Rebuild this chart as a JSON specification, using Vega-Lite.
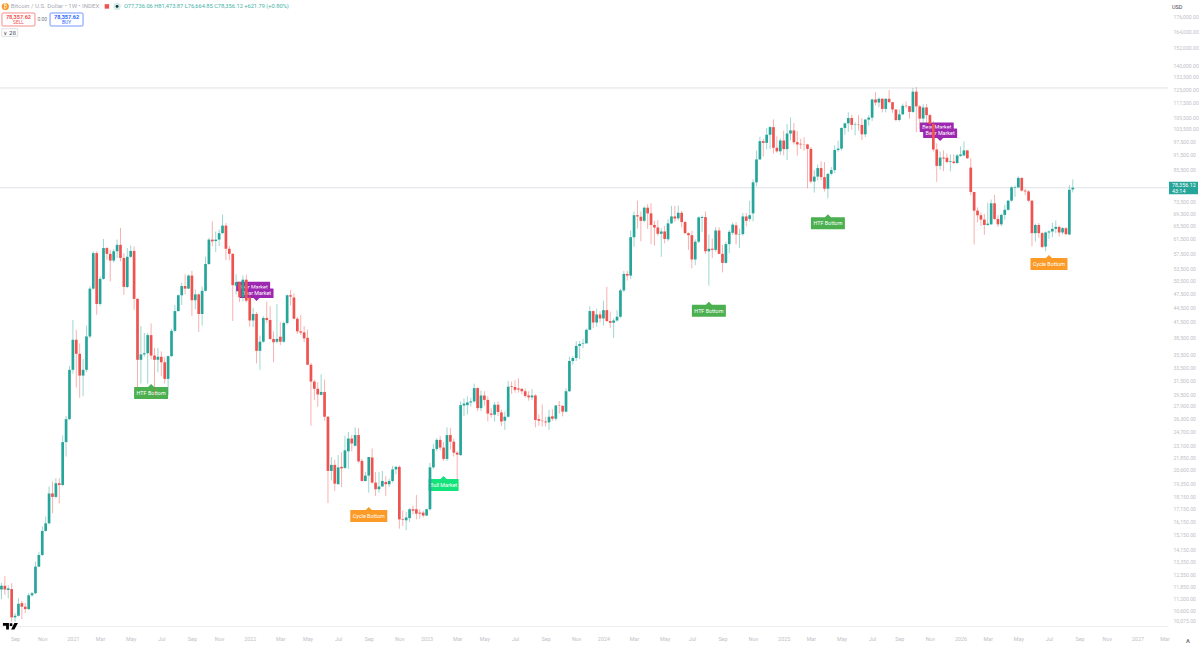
{
  "$schema": "https://vega.github.io/schema/vega-lite/v6.json",
  "width": 1168,
  "height": 626,
  "autosize": {"type": "none"},
  "padding": {"left": 0, "top": 0, "right": 32, "bottom": 20},
  "background": "#ffffff",
  "config": {
    "view": {"stroke": null},
    "font": "Roboto",
    "axis": {"grid": false, "ticks": false, "title": null}
  },
  "resolve": {"axis": {"x": "independent"}},
  "data": {"values": [{}]},
  "datasets": {
    "candles": [
      {"d":"2020-08-10","o":11700,"h":12060,"l":11170,"c":11900},
      {"d":"2020-08-17","o":11900,"h":12470,"l":11400,"c":11700},
      {"d":"2020-08-24","o":11670,"h":11920,"l":11220,"c":11750},
      {"d":"2020-08-31","o":11720,"h":12050,"l":10040,"c":10250},
      {"d":"2020-09-07","o":10250,"h":10460,"l":10040,"c":10330},
      {"d":"2020-09-14","o":10330,"h":11220,"l":10290,"c":10930},
      {"d":"2020-09-21","o":10965,"h":11080,"l":10165,"c":10780},
      {"d":"2020-09-28","o":10780,"h":10970,"l":10460,"c":10660},
      {"d":"2020-10-05","o":10660,"h":11490,"l":10610,"c":11380},
      {"d":"2020-10-12","o":11380,"h":11570,"l":11300,"c":11490},
      {"d":"2020-10-19","o":11490,"h":13340,"l":11450,"c":13030},
      {"d":"2020-10-26","o":13030,"h":13980,"l":13000,"c":13770},
      {"d":"2020-11-02","o":13770,"h":15760,"l":13700,"c":15430},
      {"d":"2020-11-09","o":15430,"h":16520,"l":15380,"c":16000},
      {"d":"2020-11-16","o":16000,"h":19050,"l":15920,"c":18430},
      {"d":"2020-11-23","o":18430,"h":19490,"l":16780,"c":18130},
      {"d":"2020-11-30","o":18130,"h":19800,"l":18000,"c":19340},
      {"d":"2020-12-07","o":19340,"h":19810,"l":17580,"c":19180},
      {"d":"2020-12-14","o":19180,"h":24250,"l":19050,"c":23500},
      {"d":"2020-12-21","o":23500,"h":26600,"l":21950,"c":26200},
      {"d":"2020-12-28","o":26200,"h":33700,"l":26100,"c":33090},
      {"d":"2021-01-04","o":33090,"h":41900,"l":32500,"c":38150},
      {"d":"2021-01-11","o":38150,"h":40000,"l":30400,"c":35700},
      {"d":"2021-01-18","o":35700,"h":37500,"l":29000,"c":32200},
      {"d":"2021-01-25","o":32200,"h":34800,"l":29200,"c":33100},
      {"d":"2021-02-01","o":33100,"h":40800,"l":32800,"c":38750},
      {"d":"2021-02-08","o":38750,"h":49100,"l":38450,"c":48600},
      {"d":"2021-02-15","o":48600,"h":58000,"l":48350,"c":57500},
      {"d":"2021-02-22","o":57500,"h":58000,"l":42950,"c":45200},
      {"d":"2021-03-01","o":45200,"h":51500,"l":44800,"c":50900},
      {"d":"2021-03-08","o":50900,"h":61500,"l":50700,"c":58900},
      {"d":"2021-03-15","o":58900,"h":59200,"l":55700,"c":57300},
      {"d":"2021-03-22","o":57300,"h":58400,"l":50300,"c":55500},
      {"d":"2021-03-29","o":55500,"h":58600,"l":55000,"c":58000},
      {"d":"2021-04-05","o":58000,"h":61300,"l":56200,"c":59800},
      {"d":"2021-04-12","o":59800,"h":64800,"l":55300,"c":56200},
      {"d":"2021-04-19","o":56200,"h":57500,"l":47200,"c":49000},
      {"d":"2021-04-26","o":49000,"h":58900,"l":48700,"c":56500},
      {"d":"2021-05-03","o":56500,"h":59600,"l":56200,"c":58100},
      {"d":"2021-05-10","o":58100,"h":59400,"l":44000,"c":46300},
      {"d":"2021-05-17","o":46300,"h":46500,"l":30500,"c":34700},
      {"d":"2021-05-24","o":34700,"h":40700,"l":31000,"c":35600},
      {"d":"2021-05-31","o":35600,"h":39400,"l":35200,"c":35800},
      {"d":"2021-06-07","o":35800,"h":39400,"l":31000,"c":39000},
      {"d":"2021-06-14","o":39000,"h":41200,"l":34800,"c":35400},
      {"d":"2021-06-21","o":35400,"h":36700,"l":29000,"c":34700},
      {"d":"2021-06-28","o":34700,"h":36700,"l":32700,"c":35200},
      {"d":"2021-07-05","o":35200,"h":36100,"l":32100,"c":34300},
      {"d":"2021-07-12","o":34300,"h":35200,"l":31000,"c":31700},
      {"d":"2021-07-19","o":31700,"h":35400,"l":29400,"c":35300},
      {"d":"2021-07-26","o":35300,"h":40200,"l":35200,"c":39800},
      {"d":"2021-08-02","o":39800,"h":45000,"l":39500,"c":43700},
      {"d":"2021-08-09","o":43700,"h":47300,"l":43600,"c":47100},
      {"d":"2021-08-16","o":47100,"h":50000,"l":45000,"c":49200},
      {"d":"2021-08-23","o":49200,"h":52000,"l":47300,"c":48600},
      {"d":"2021-08-30","o":48600,"h":52000,"l":48500,"c":51700},
      {"d":"2021-09-06","o":51700,"h":52900,"l":42700,"c":46000},
      {"d":"2021-09-13","o":46000,"h":48400,"l":44100,"c":47300},
      {"d":"2021-09-20","o":47300,"h":47500,"l":39600,"c":43100},
      {"d":"2021-09-27","o":43100,"h":49100,"l":40800,"c":48100},
      {"d":"2021-10-04","o":48100,"h":56500,"l":47900,"c":54600},
      {"d":"2021-10-11","o":54600,"h":61800,"l":54400,"c":61300},
      {"d":"2021-10-18","o":61300,"h":66800,"l":59400,"c":60800},
      {"d":"2021-10-25","o":60900,"h":63700,"l":57800,"c":61300},
      {"d":"2021-11-01","o":61300,"h":64300,"l":59500,"c":63200},
      {"d":"2021-11-08","o":63200,"h":69000,"l":63000,"c":65500},
      {"d":"2021-11-15","o":65500,"h":66300,"l":55600,"c":58700},
      {"d":"2021-11-22","o":58700,"h":59500,"l":55600,"c":57300},
      {"d":"2021-11-29","o":57300,"h":57500,"l":41700,"c":49400},
      {"d":"2021-12-06","o":49300,"h":52000,"l":47300,"c":50100},
      {"d":"2021-12-13","o":50100,"h":50200,"l":45600,"c":46700},
      {"d":"2021-12-20","o":46700,"h":51700,"l":45800,"c":50700},
      {"d":"2021-12-27","o":50700,"h":51900,"l":45500,"c":45900},
      {"d":"2022-01-03","o":46600,"h":47500,"l":40600,"c":41800},
      {"d":"2022-01-10","o":41800,"h":44400,"l":40500,"c":43100},
      {"d":"2022-01-17","o":43100,"h":43500,"l":34100,"c":36200},
      {"d":"2022-01-24","o":36200,"h":38900,"l":33100,"c":37800},
      {"d":"2022-01-31","o":37800,"h":42700,"l":37600,"c":42300},
      {"d":"2022-02-07","o":42300,"h":45700,"l":41400,"c":41900},
      {"d":"2022-02-14","o":41900,"h":44700,"l":38100,"c":38300},
      {"d":"2022-02-21","o":38300,"h":39700,"l":34300,"c":37700},
      {"d":"2022-02-28","o":37800,"h":45200,"l":37500,"c":38300},
      {"d":"2022-03-07","o":38700,"h":41500,"l":37200,"c":37800},
      {"d":"2022-03-14","o":37800,"h":41600,"l":37600,"c":41300},
      {"d":"2022-03-21","o":41300,"h":47300,"l":41000,"c":47100},
      {"d":"2022-03-28","o":47100,"h":48300,"l":44900,"c":46800},
      {"d":"2022-04-04","o":46600,"h":47500,"l":42000,"c":42150},
      {"d":"2022-04-11","o":42150,"h":42500,"l":39200,"c":39700},
      {"d":"2022-04-18","o":39700,"h":42900,"l":39000,"c":39450},
      {"d":"2022-04-25","o":39500,"h":40700,"l":37700,"c":38400},
      {"d":"2022-05-02","o":38500,"h":40000,"l":33800,"c":33900},
      {"d":"2022-05-09","o":33900,"h":34200,"l":25400,"c":31300},
      {"d":"2022-05-16","o":31300,"h":31600,"l":28700,"c":30250},
      {"d":"2022-05-23","o":30250,"h":31200,"l":27800,"c":29450},
      {"d":"2022-05-30","o":29400,"h":32400,"l":29300,"c":29800},
      {"d":"2022-06-06","o":29800,"h":31600,"l":26000,"c":26500},
      {"d":"2022-06-13","o":26500,"h":26600,"l":17600,"c":20500},
      {"d":"2022-06-20","o":20500,"h":21900,"l":19600,"c":21100},
      {"d":"2022-06-27","o":21100,"h":21600,"l":18650,"c":19300},
      {"d":"2022-07-04","o":19250,"h":22100,"l":19250,"c":20850},
      {"d":"2022-07-11","o":20900,"h":22400,"l":19000,"c":20750},
      {"d":"2022-07-18","o":20800,"h":24200,"l":20700,"c":22600},
      {"d":"2022-07-25","o":22500,"h":24650,"l":20700,"c":23900},
      {"d":"2022-08-01","o":23900,"h":24300,"l":22500,"c":23350},
      {"d":"2022-08-08","o":23100,"h":25200,"l":23000,"c":24300},
      {"d":"2022-08-15","o":24300,"h":25100,"l":21300,"c":21450},
      {"d":"2022-08-22","o":21500,"h":21700,"l":19500,"c":19550},
      {"d":"2022-08-29","o":19550,"h":20400,"l":19500,"c":20050},
      {"d":"2022-09-05","o":20050,"h":21900,"l":18500,"c":21900},
      {"d":"2022-09-12","o":21850,"h":22800,"l":19300,"c":19400},
      {"d":"2022-09-19","o":19400,"h":20400,"l":18200,"c":18800},
      {"d":"2022-09-26","o":18800,"h":20400,"l":18500,"c":19050},
      {"d":"2022-10-03","o":19050,"h":20500,"l":19000,"c":19550},
      {"d":"2022-10-10","o":19450,"h":20000,"l":18200,"c":19250},
      {"d":"2022-10-17","o":19250,"h":19750,"l":19000,"c":19550},
      {"d":"2022-10-24","o":19550,"h":21000,"l":19400,"c":20650},
      {"d":"2022-10-31","o":20650,"h":21000,"l":20200,"c":20900},
      {"d":"2022-11-07","o":20900,"h":21050,"l":15600,"c":16300},
      {"d":"2022-11-14","o":16300,"h":17000,"l":15800,"c":16250},
      {"d":"2022-11-21","o":16230,"h":16900,"l":15500,"c":16450},
      {"d":"2022-11-28","o":16400,"h":17200,"l":16100,"c":17100},
      {"d":"2022-12-05","o":17100,"h":17400,"l":16700,"c":16980},
      {"d":"2022-12-12","o":17100,"h":18300,"l":16300,"c":16750},
      {"d":"2022-12-19","o":16830,"h":17100,"l":16350,"c":16750},
      {"d":"2022-12-26","o":16830,"h":17000,"l":16450,"c":16600},
      {"d":"2023-01-02","o":16600,"h":17150,"l":16550,"c":17100},
      {"d":"2023-01-09","o":17100,"h":21300,"l":17000,"c":20850},
      {"d":"2023-01-16","o":20850,"h":23300,"l":20700,"c":22750},
      {"d":"2023-01-23","o":22750,"h":23950,"l":22500,"c":23750},
      {"d":"2023-01-30","o":23750,"h":24200,"l":22600,"c":22900},
      {"d":"2023-02-06","o":22900,"h":23500,"l":21500,"c":21700},
      {"d":"2023-02-13","o":21700,"h":25200,"l":21500,"c":24300},
      {"d":"2023-02-20","o":24300,"h":25100,"l":22700,"c":23550},
      {"d":"2023-02-27","o":23550,"h":23900,"l":21950,"c":22350},
      {"d":"2023-03-06","o":22350,"h":22500,"l":19700,"c":22150},
      {"d":"2023-03-13","o":22100,"h":28500,"l":22000,"c":28000},
      {"d":"2023-03-20","o":27950,"h":28900,"l":26600,"c":28200},
      {"d":"2023-03-27","o":28000,"h":29200,"l":26800,"c":28350},
      {"d":"2023-04-03","o":28350,"h":29000,"l":27800,"c":28500},
      {"d":"2023-04-10","o":28500,"h":31000,"l":28300,"c":30350},
      {"d":"2023-04-17","o":30350,"h":30500,"l":27200,"c":27600},
      {"d":"2023-04-24","o":27600,"h":30000,"l":27200,"c":29300},
      {"d":"2023-05-01","o":29300,"h":29900,"l":27900,"c":28700},
      {"d":"2023-05-08","o":28700,"h":29200,"l":25900,"c":26900},
      {"d":"2023-05-15","o":26900,"h":27600,"l":26400,"c":26750},
      {"d":"2023-05-22","o":26750,"h":28400,"l":25900,"c":28050},
      {"d":"2023-05-29","o":28050,"h":28500,"l":26600,"c":27100},
      {"d":"2023-06-05","o":27050,"h":27400,"l":25350,"c":25900},
      {"d":"2023-06-12","o":26000,"h":27150,"l":24900,"c":26500},
      {"d":"2023-06-19","o":26500,"h":31400,"l":26400,"c":30550},
      {"d":"2023-06-26","o":30600,"h":31300,"l":29550,"c":30500},
      {"d":"2023-07-03","o":30500,"h":31500,"l":29700,"c":30100},
      {"d":"2023-07-10","o":30300,"h":31800,"l":29700,"c":30150},
      {"d":"2023-07-17","o":30250,"h":30300,"l":29500,"c":29900},
      {"d":"2023-07-24","o":29900,"h":30300,"l":29000,"c":29250},
      {"d":"2023-07-31","o":29300,"h":29900,"l":28600,"c":29050},
      {"d":"2023-08-07","o":29050,"h":30200,"l":28700,"c":29300},
      {"d":"2023-08-14","o":29300,"h":29500,"l":25200,"c":26100},
      {"d":"2023-08-21","o":26200,"h":26800,"l":25400,"c":26000},
      {"d":"2023-08-28","o":26000,"h":28100,"l":25300,"c":25950},
      {"d":"2023-09-04","o":25900,"h":26500,"l":25300,"c":25800},
      {"d":"2023-09-11","o":25800,"h":27400,"l":24900,"c":26500},
      {"d":"2023-09-18","o":26550,"h":27450,"l":26000,"c":26250},
      {"d":"2023-09-25","o":26250,"h":28000,"l":26000,"c":27950},
      {"d":"2023-10-02","o":27950,"h":28550,"l":26900,"c":27900},
      {"d":"2023-10-09","o":27900,"h":28000,"l":26550,"c":27150},
      {"d":"2023-10-16","o":27150,"h":30300,"l":27050,"c":29900},
      {"d":"2023-10-23","o":29900,"h":35200,"l":29800,"c":34500},
      {"d":"2023-10-30","o":34500,"h":35300,"l":33900,"c":35000},
      {"d":"2023-11-06","o":35000,"h":37900,"l":34500,"c":37050},
      {"d":"2023-11-13","o":37050,"h":37950,"l":34800,"c":37400},
      {"d":"2023-11-20","o":37400,"h":38300,"l":36700,"c":37500},
      {"d":"2023-11-27","o":37500,"h":40200,"l":37500,"c":40000},
      {"d":"2023-12-04","o":40000,"h":44700,"l":39900,"c":43700},
      {"d":"2023-12-11","o":43700,"h":43800,"l":40300,"c":41400},
      {"d":"2023-12-18","o":41400,"h":44200,"l":40600,"c":43000},
      {"d":"2023-12-25","o":43000,"h":43700,"l":41400,"c":42200},
      {"d":"2024-01-01","o":42200,"h":45900,"l":40800,"c":43900},
      {"d":"2024-01-08","o":43900,"h":49000,"l":41500,"c":41700},
      {"d":"2024-01-15","o":41700,"h":43600,"l":40300,"c":41350},
      {"d":"2024-01-22","o":41350,"h":42200,"l":38500,"c":41800},
      {"d":"2024-01-29","o":41800,"h":43900,"l":41600,"c":42550},
      {"d":"2024-02-05","o":42550,"h":48600,"l":42300,"c":48200},
      {"d":"2024-02-12","o":48200,"h":52800,"l":47800,"c":52100},
      {"d":"2024-02-19","o":52100,"h":52900,"l":50500,"c":51700},
      {"d":"2024-02-26","o":51700,"h":64000,"l":50900,"c":62000},
      {"d":"2024-03-04","o":62000,"h":70000,"l":59300,"c":68800},
      {"d":"2024-03-11","o":68800,"h":73700,"l":64600,"c":68400},
      {"d":"2024-03-18","o":68300,"h":70000,"l":60800,"c":67000},
      {"d":"2024-03-25","o":67000,"h":71700,"l":66500,"c":71300},
      {"d":"2024-04-01","o":71300,"h":72500,"l":64500,"c":69400},
      {"d":"2024-04-08","o":69400,"h":72800,"l":60000,"c":65700},
      {"d":"2024-04-15","o":65700,"h":67000,"l":59600,"c":64900},
      {"d":"2024-04-22","o":64900,"h":67200,"l":62400,"c":63000},
      {"d":"2024-04-29","o":63000,"h":64700,"l":56500,"c":63700},
      {"d":"2024-05-06","o":63700,"h":65400,"l":60200,"c":61500},
      {"d":"2024-05-13","o":61400,"h":67500,"l":60800,"c":66200},
      {"d":"2024-05-20","o":66200,"h":71900,"l":66000,"c":68400},
      {"d":"2024-05-27","o":68400,"h":71900,"l":66700,"c":67700},
      {"d":"2024-06-03","o":67800,"h":72000,"l":67100,"c":69600},
      {"d":"2024-06-10","o":69600,"h":70200,"l":65000,"c":66600},
      {"d":"2024-06-17","o":66600,"h":67000,"l":63000,"c":63200},
      {"d":"2024-06-24","o":63200,"h":63400,"l":58400,"c":62600},
      {"d":"2024-07-01","o":62600,"h":63900,"l":53500,"c":55800},
      {"d":"2024-07-08","o":55800,"h":61400,"l":54300,"c":60700},
      {"d":"2024-07-15","o":60700,"h":68400,"l":60300,"c":68100},
      {"d":"2024-07-22","o":67900,"h":68700,"l":63500,"c":68200},
      {"d":"2024-07-29","o":68200,"h":70000,"l":57300,"c":58000},
      {"d":"2024-08-05","o":58000,"h":62800,"l":49300,"c":58700},
      {"d":"2024-08-12","o":58700,"h":61600,"l":56200,"c":58400},
      {"d":"2024-08-19","o":58400,"h":65000,"l":57800,"c":64000},
      {"d":"2024-08-26","o":64000,"h":65000,"l":57200,"c":57300},
      {"d":"2024-09-02","o":57300,"h":59800,"l":52500,"c":54900},
      {"d":"2024-09-09","o":54900,"h":60700,"l":54700,"c":60000},
      {"d":"2024-09-16","o":60000,"h":64100,"l":57500,"c":63600},
      {"d":"2024-09-23","o":63300,"h":66500,"l":62700,"c":65800},
      {"d":"2024-09-30","o":65600,"h":66500,"l":59900,"c":62800},
      {"d":"2024-10-07","o":62800,"h":64500,"l":58900,"c":62900},
      {"d":"2024-10-14","o":62900,"h":69500,"l":62500,"c":68400},
      {"d":"2024-10-21","o":68400,"h":69500,"l":65300,"c":67000},
      {"d":"2024-10-28","o":67600,"h":73600,"l":66800,"c":68800},
      {"d":"2024-11-04","o":69400,"h":81500,"l":66800,"c":80400},
      {"d":"2024-11-11","o":80400,"h":93400,"l":78900,"c":89600},
      {"d":"2024-11-18","o":89600,"h":99800,"l":89400,"c":97700},
      {"d":"2024-11-25","o":97700,"h":98900,"l":90800,"c":96900},
      {"d":"2024-12-02","o":96900,"h":104000,"l":94000,"c":100700},
      {"d":"2024-12-09","o":100700,"h":105000,"l":94200,"c":104400},
      {"d":"2024-12-16","o":104400,"h":108300,"l":92200,"c":94700},
      {"d":"2024-12-23","o":94700,"h":99900,"l":92500,"c":93100},
      {"d":"2024-12-30","o":93100,"h":99000,"l":91500,"c":98000},
      {"d":"2025-01-06","o":98000,"h":102700,"l":91300,"c":94100},
      {"d":"2025-01-13","o":94100,"h":106000,"l":89300,"c":101300},
      {"d":"2025-01-20","o":101300,"h":109300,"l":98000,"c":102800},
      {"d":"2025-01-27","o":102800,"h":106500,"l":96200,"c":97200},
      {"d":"2025-02-03","o":97200,"h":102500,"l":91200,"c":96200},
      {"d":"2025-02-10","o":96500,"h":98800,"l":94100,"c":96200},
      {"d":"2025-02-17","o":96300,"h":99500,"l":93400,"c":96200},
      {"d":"2025-02-24","o":96200,"h":96500,"l":78200,"c":94200},
      {"d":"2025-03-03","o":94200,"h":95000,"l":80000,"c":80700},
      {"d":"2025-03-10","o":80700,"h":85300,"l":76600,"c":82600},
      {"d":"2025-03-17","o":82600,"h":87500,"l":81100,"c":86000},
      {"d":"2025-03-24","o":86000,"h":88800,"l":81200,"c":82400},
      {"d":"2025-03-31","o":82400,"h":88500,"l":77000,"c":78000},
      {"d":"2025-04-07","o":78000,"h":83900,"l":74500,"c":83700},
      {"d":"2025-04-14","o":83700,"h":86400,"l":83100,"c":85200},
      {"d":"2025-04-21","o":85200,"h":95800,"l":83900,"c":93700},
      {"d":"2025-04-28","o":93700,"h":97900,"l":92900,"c":94300},
      {"d":"2025-05-05","o":94300,"h":104300,"l":93400,"c":104000},
      {"d":"2025-05-12","o":104000,"h":106700,"l":100700,"c":106300},
      {"d":"2025-05-19","o":106300,"h":112000,"l":102100,"c":109000},
      {"d":"2025-05-26","o":109000,"h":110700,"l":103100,"c":105500},
      {"d":"2025-06-02","o":105500,"h":106800,"l":100400,"c":105700},
      {"d":"2025-06-09","o":105700,"h":110500,"l":102700,"c":105500},
      {"d":"2025-06-16","o":105500,"h":108900,"l":98200,"c":100900},
      {"d":"2025-06-23","o":100900,"h":108500,"l":99600,"c":108200},
      {"d":"2025-06-30","o":108200,"h":110500,"l":105100,"c":109200},
      {"d":"2025-07-07","o":109200,"h":119400,"l":107500,"c":119000},
      {"d":"2025-07-14","o":119000,"h":123200,"l":115700,"c":117300},
      {"d":"2025-07-21","o":117300,"h":120200,"l":114700,"c":119400},
      {"d":"2025-07-28","o":119400,"h":119800,"l":112000,"c":113800},
      {"d":"2025-08-04","o":113800,"h":119700,"l":111900,"c":119400},
      {"d":"2025-08-11","o":119400,"h":124500,"l":116900,"c":117500},
      {"d":"2025-08-18","o":117500,"h":117600,"l":111700,"c":113500},
      {"d":"2025-08-25","o":113500,"h":113600,"l":107300,"c":108000},
      {"d":"2025-09-01","o":108000,"h":113500,"l":107300,"c":110900},
      {"d":"2025-09-08","o":110900,"h":116700,"l":110800,"c":115500},
      {"d":"2025-09-15","o":115500,"h":117900,"l":114400,"c":115300},
      {"d":"2025-09-22","o":115300,"h":115400,"l":108600,"c":112200},
      {"d":"2025-09-29","o":112200,"h":125700,"l":111700,"c":123500},
      {"d":"2025-10-06","o":123500,"h":126200,"l":102000,"c":115200},
      {"d":"2025-10-13","o":115200,"h":115900,"l":103500,"c":108700},
      {"d":"2025-10-20","o":108700,"h":116400,"l":106700,"c":114600},
      {"d":"2025-10-27","o":114600,"h":116400,"l":106300,"c":110500},
      {"d":"2025-11-03","o":110500,"h":111200,"l":98900,"c":106000},
      {"d":"2025-11-10","o":106000,"h":107500,"l":93000,"c":93900},
      {"d":"2025-11-17","o":93900,"h":96700,"l":80600,"c":86900},
      {"d":"2025-11-24","o":86900,"h":93000,"l":85400,"c":90400},
      {"d":"2025-12-01","o":90400,"h":93500,"l":84800,"c":90000},
      {"d":"2025-12-08","o":90300,"h":92200,"l":87900,"c":88500},
      {"d":"2025-12-15","o":88500,"h":91800,"l":84700,"c":88800},
      {"d":"2025-12-22","o":88700,"h":91800,"l":87600,"c":88100},
      {"d":"2025-12-29","o":88100,"h":91900,"l":87600,"c":91300},
      {"d":"2026-01-05","o":91100,"h":95300,"l":90700,"c":91700},
      {"d":"2026-01-12","o":91300,"h":97600,"l":90900,"c":93500},
      {"d":"2026-01-19","o":93500,"h":93800,"l":89800,"c":90100},
      {"d":"2026-01-26","o":86200,"h":90100,"l":75700,"c":76800},
      {"d":"2026-02-02","o":76800,"h":76900,"l":59900,"c":70300},
      {"d":"2026-02-09","o":70300,"h":71400,"l":66500,"c":68800},
      {"d":"2026-02-16","o":68800,"h":69700,"l":65400,"c":67400},
      {"d":"2026-02-23","o":67400,"h":69200,"l":62700,"c":65700},
      {"d":"2026-03-02","o":65700,"h":73000,"l":65400,"c":66100},
      {"d":"2026-03-09","o":65900,"h":74100,"l":65700,"c":72800},
      {"d":"2026-03-16","o":72800,"h":75700,"l":67300,"c":67600},
      {"d":"2026-03-23","o":67600,"h":68800,"l":65100,"c":65900},
      {"d":"2026-03-30","o":65900,"h":69300,"l":65300,"c":68900},
      {"d":"2026-04-06","o":68900,"h":72300,"l":67400,"c":70600},
      {"d":"2026-04-13","o":70600,"h":74000,"l":70300,"c":73700},
      {"d":"2026-04-20","o":73700,"h":78900,"l":73400,"c":78500},
      {"d":"2026-04-27","o":78300,"h":79200,"l":75000,"c":78500},
      {"d":"2026-05-04","o":78500,"h":82700,"l":78300,"c":82100},
      {"d":"2026-05-11","o":82100,"h":82300,"l":77000,"c":77300},
      {"d":"2026-05-18","o":77300,"h":78000,"l":75700,"c":77000},
      {"d":"2026-05-25","o":77000,"h":77500,"l":73200,"c":73700},
      {"d":"2026-06-01","o":73700,"h":74000,"l":59400,"c":63200},
      {"d":"2026-06-08","o":63200,"h":66100,"l":60700,"c":65700},
      {"d":"2026-06-15","o":65700,"h":66300,"l":61800,"c":63200},
      {"d":"2026-06-22","o":63200,"h":63600,"l":58900,"c":59200},
      {"d":"2026-06-29","o":59300,"h":63700,"l":58000,"c":63400},
      {"d":"2026-07-06","o":63400,"h":64100,"l":61500,"c":63700},
      {"d":"2026-07-13","o":63700,"h":66400,"l":62000,"c":64500},
      {"d":"2026-07-20","o":64500,"h":67100,"l":63200,"c":65100},
      {"d":"2026-07-27","o":65100,"h":65500,"l":62200,"c":63400},
      {"d":"2026-08-03","o":63400,"h":65100,"l":62800,"c":64700},
      {"d":"2026-08-10","o":64700,"h":65100,"l":62600,"c":62900},
      {"d":"2026-08-17","o":62800,"h":79400,"l":62600,"c":77600},
      {"d":"2026-08-24","o":77736.06,"h":81473.87,"l":76664.85,"c":78356.12}
    ],
    "signals": [
      {"d":"2021-06-14","p":30950,"kind":"HTF Bottom","tier":1},
      {"d":"2022-01-10","p":47300,"kind":"Bear Market","tier":0},
      {"d":"2022-01-17","p":45850,"kind":"Bear Market","tier":1},
      {"d":"2022-09-05","p":17285,"kind":"Cycle Bottom","tier":1},
      {"d":"2023-02-06","p":20020,"kind":"Bull Market","tier":1},
      {"d":"2024-08-05","p":45700,"kind":"HTF Bottom","tier":1},
      {"d":"2025-04-07","p":69100,"kind":"HTF Bottom","tier":1},
      {"d":"2025-11-17","p":100600,"kind":"Bear Market","tier":0},
      {"d":"2025-11-24","p":97800,"kind":"Bear Market","tier":1},
      {"d":"2026-07-06","p":57000,"kind":"Cycle Bottom","tier":1}
    ]
  },
  "layer": [
    {
      "data": {"values": [{"p": 125670}, {"p": 78356.12}]},
      "mark": {"type": "rule", "color": "#dfe1e6", "strokeWidth": 1},
      "encoding": {
        "y": {
          "field": "p",
          "type": "quantitative",
          "scale": {"type": "log", "domain": [9839, 190600], "nice": false, "zero": false},
          "axis": {
            "orient": "right",
            "domain": false,
            "format": ",.2f",
            "labelFontSize": 5.1,
            "labelColor": "#bfc1c9",
            "labelPadding": 5,
            "labelOverlap": false,
            "values": [176000,164000,152000,140000,132500,125000,117500,109500,103500,97500,91500,85500,79500,73500,69500,65500,61500,57500,53500,50500,47500,44500,41500,38500,35500,33500,31500,29500,27900,26300,24700,23100,21850,20600,19350,18150,17150,16150,15150,14150,13350,12550,11850,11200,10600,10075]
          }
        }
      }
    },
    {
      "data": {"name": "signals"},
      "transform": [{"filter": "datum.tier == 0"}],
      "mark": {"type": "point", "filled": true, "size": 4, "opacity": 1},
      "encoding": {
        "x": {
          "field": "d",
          "type": "temporal",
          "scale": {"type": "utc", "domain": ["2020-08-07", "2027-03-08"], "padding": 0},
          "axis": {
            "orient": "bottom",
            "domainColor": "#ecedf0",
            "labelFontSize": 5.4,
            "labelColor": "#bfc1c9",
            "labelPadding": 10,
            "labelAlign": "center",
            "labelOverlap": false,
            "labelFlush": false,
            "values": ["2020-09-07","2020-11-02","2021-01-04","2021-03-01","2021-05-03","2021-07-05","2021-09-06","2021-11-01","2022-01-03","2022-03-07","2022-05-02","2022-07-04","2022-09-05","2022-11-07","2023-01-02","2023-03-06","2023-05-01","2023-07-03","2023-09-04","2023-11-06","2024-01-01","2024-03-04","2024-05-06","2024-07-01","2024-09-02","2024-11-04","2025-01-06","2025-03-03","2025-05-05","2025-07-07","2025-09-01","2025-11-03","2026-01-05","2026-03-02","2026-05-04","2026-07-06","2026-09-07","2026-11-02","2027-01-04","2027-03-01"],
            "labelExpr": "utcmonth(datum.value) == 0 ? utcFormat(datum.value, '%Y') : utcFormat(datum.value, '%b')",
            "encode": {"labels": {"update": {"fontWeight": {"signal": "utcmonth(datum.value) == 0 ? 'bold' : 'normal'"}}}}
          }
        },
        "y": {"field": "p", "type": "quantitative"},
        "color": {
          "field": "kind",
          "type": "nominal",
          "legend": null,
          "scale": {
            "domain": ["HTF Bottom", "Bear Market", "Cycle Bottom", "Bull Market"],
            "range": ["#4caf50", "#9c27b0", "#fb9a26", "#14e27a"]
          }
        },
        "shape": {
          "field": "kind",
          "type": "nominal",
          "legend": null,
          "scale": {
            "domain": ["HTF Bottom", "Bear Market", "Cycle Bottom", "Bull Market"],
            "range": [
              "M0,0L3,3H16.5Q17,3 17,3.5V14.5Q17,15 16.5,15H-16.5Q-17,15 -17,14.5V3.5Q-17,3 -16.5,3H-3Z",
              "M0,0L3,-3H16.5Q17,-3 17,-3.5V-12Q17,-12.5 16.5,-12.5H-16.5Q-17,-12.5 -17,-12V-3.5Q-17,-3 -16.5,-3H-3Z",
              "M0,0L3,3H18Q18.5,3 18.5,3.5V14.5Q18.5,15 18,15H-18Q-18.5,15 -18.5,14.5V3.5Q-18.5,3 -18,3H-3Z",
              "M0,0L3,3H14.5Q15,3 15,3.5V14.5Q15,15 14.5,15H-14.5Q-15,15 -15,14.5V3.5Q-15,3 -14.5,3H-3Z"
            ]
          }
        }
      }
    },
    {
      "data": {"name": "signals"},
      "transform": [{"filter": "datum.tier == 0"}],
      "mark": {"type": "text", "color": "#ffffff", "fontSize": 5.4, "dy": {"expr": "datum.kind === 'Bear Market' ? -7.7 : 9"}},
      "encoding": {
        "x": {"field": "d", "type": "temporal", "axis": null},
        "y": {"field": "p", "type": "quantitative"},
        "text": {"field": "kind"}
      }
    },
    {
      "data": {"name": "signals"},
      "transform": [{"filter": "datum.tier == 1"}],
      "mark": {"type": "point", "filled": true, "size": 4, "opacity": 1},
      "encoding": {
        "x": {"field": "d", "type": "temporal", "axis": null},
        "y": {"field": "p", "type": "quantitative"},
        "color": {"field": "kind", "type": "nominal", "legend": null},
        "shape": {"field": "kind", "type": "nominal", "legend": null}
      }
    },
    {
      "data": {"name": "signals"},
      "transform": [{"filter": "datum.tier == 1"}],
      "mark": {"type": "text", "color": "#ffffff", "fontSize": 5.4, "dy": {"expr": "datum.kind === 'Bear Market' ? -7.7 : 9"}},
      "encoding": {
        "x": {"field": "d", "type": "temporal", "axis": null},
        "y": {"field": "p", "type": "quantitative"},
        "text": {"field": "kind"}
      }
    },
    {
      "data": {"name": "candles"},
      "mark": {"type": "rule", "strokeWidth": 0.9, "opacity": 0.5},
      "encoding": {
        "x": {"field": "d", "type": "temporal", "axis": null},
        "y": {"field": "l", "type": "quantitative"},
        "y2": {"field": "h"},
        "color": {"condition": {"test": "datum.c >= datum.o", "value": "#26a69a"}, "value": "#ef5350"}
      }
    },
    {
      "data": {"name": "candles"},
      "mark": {"type": "bar", "size": 2.7, "minBandSize": 1},
      "encoding": {
        "x": {"field": "d", "type": "temporal", "axis": null},
        "y": {"field": "o", "type": "quantitative"},
        "y2": {"field": "c"},
        "color": {"condition": {"test": "datum.c >= datum.o", "value": "#26a69a"}, "value": "#ef5350"}
      }
    },
    {
      "mark": {"type": "point", "filled": true, "size": 50, "shape": "circle", "color": "#f7931a", "opacity": 1},
      "encoding": {"x": {"datum": {"year": 2020, "month": "aug", "date": 18, "utc": true}, "type": "temporal", "axis": null}, "y": {"datum": 184900, "type": "quantitative"}}
    },
    {
      "mark": {"type": "text", "text": "₿", "fontSize": 5.5, "color": "#ffffff"},
      "encoding": {"x": {"datum": {"year": 2020, "month": "aug", "date": 18, "utc": true}, "type": "temporal", "axis": null}, "y": {"datum": 184900, "type": "quantitative"}}
    },
    {
      "mark": {"type": "text", "text": "Bitcoin / U.S. Dollar • 1W • INDEX", "align": "left", "fontSize": 6.1, "color": "#a9abb3"},
      "encoding": {"x": {"datum": {"year": 2020, "month": "aug", "date": 29, "utc": true}, "type": "temporal", "axis": null}, "y": {"datum": 184900, "type": "quantitative"}}
    },
    {
      "mark": {"type": "point", "filled": true, "size": 20, "shape": "square", "color": "#ef5350", "opacity": 1},
      "encoding": {"x": {"datum": {"year": 2021, "month": "mar", "date": 15, "utc": true}, "type": "temporal", "axis": null}, "y": {"datum": 184900, "type": "quantitative"}}
    },
    {
      "mark": {"type": "point", "filled": true, "size": 55, "shape": "circle", "color": "#26a69a", "opacity": 0.2},
      "encoding": {"x": {"datum": {"year": 2021, "month": "apr", "date": 5, "utc": true}, "type": "temporal", "axis": null}, "y": {"datum": 184900, "type": "quantitative"}}
    },
    {
      "mark": {"type": "point", "filled": true, "size": 8, "shape": "circle", "color": "#10332f", "opacity": 1},
      "encoding": {"x": {"datum": {"year": 2021, "month": "apr", "date": 5, "utc": true}, "type": "temporal", "axis": null}, "y": {"datum": 184900, "type": "quantitative"}}
    },
    {
      "mark": {"type": "text", "text": "O77,736.06  H81,473.87  L76,664.85  C78,356.12  +621.79 (+0.80%)", "align": "left", "fontSize": 5.7, "color": "#45b3a8"},
      "encoding": {"x": {"datum": {"year": 2021, "month": "apr", "date": 19, "utc": true}, "type": "temporal", "axis": null}, "y": {"datum": 184900, "type": "quantitative"}}
    },
    {
      "mark": {"type": "point", "filled": false, "size": 4, "opacity": 0.65, "strokeWidth": 1, "color": "#ef5350", "shape": "M-15.5,-6.5H15.5Q16.5,-6.5 16.5,-5.5V5.5Q16.5,6.5 15.5,6.5H-15.5Q-16.5,6.5 -16.5,5.5V-5.5Q-16.5,-6.5 -15.5,-6.5Z"},
      "encoding": {"x": {"datum": {"year": 2020, "month": "sep", "date": 14, "utc": true}, "type": "temporal", "axis": null}, "y": {"datum": 173800, "type": "quantitative"}}
    },
    {
      "mark": {"type": "text", "text": "78,357.62", "fontSize": 5.5, "fontWeight": "bold", "color": "#ef5350"},
      "encoding": {"x": {"datum": {"year": 2020, "month": "sep", "date": 14, "utc": true}, "type": "temporal", "axis": null}, "y": {"datum": 175900, "type": "quantitative"}}
    },
    {
      "mark": {"type": "text", "text": "SELL", "fontSize": 4.8, "color": "#ef5350"},
      "encoding": {"x": {"datum": {"year": 2020, "month": "sep", "date": 14, "utc": true}, "type": "temporal", "axis": null}, "y": {"datum": 171300, "type": "quantitative"}}
    },
    {
      "mark": {"type": "text", "text": "0.00", "fontSize": 5, "color": "#787b86"},
      "encoding": {"x": {"datum": {"year": 2020, "month": "nov", "date": 2, "utc": true}, "type": "temporal", "axis": null}, "y": {"datum": 173800, "type": "quantitative"}}
    },
    {
      "mark": {"type": "point", "filled": false, "size": 4, "opacity": 0.65, "strokeWidth": 1, "color": "#2962ff", "shape": "M-15.5,-6.5H15.5Q16.5,-6.5 16.5,-5.5V5.5Q16.5,6.5 15.5,6.5H-15.5Q-16.5,6.5 -16.5,5.5V-5.5Q-16.5,-6.5 -15.5,-6.5Z"},
      "encoding": {"x": {"datum": {"year": 2020, "month": "dec", "date": 22, "utc": true}, "type": "temporal", "axis": null}, "y": {"datum": 173800, "type": "quantitative"}}
    },
    {
      "mark": {"type": "text", "text": "78,357.62", "fontSize": 5.5, "fontWeight": "bold", "color": "#2962ff"},
      "encoding": {"x": {"datum": {"year": 2020, "month": "dec", "date": 22, "utc": true}, "type": "temporal", "axis": null}, "y": {"datum": 175900, "type": "quantitative"}}
    },
    {
      "mark": {"type": "text", "text": "BUY", "fontSize": 4.8, "color": "#2962ff"},
      "encoding": {"x": {"datum": {"year": 2020, "month": "dec", "date": 22, "utc": true}, "type": "temporal", "axis": null}, "y": {"datum": 171300, "type": "quantitative"}}
    },
    {
      "mark": {"type": "point", "filled": false, "size": 4, "opacity": 1, "strokeWidth": 0.8, "color": "#d6d8de", "shape": "M-8,-3.8H8V3.8H-8Z"},
      "encoding": {"x": {"datum": {"year": 2020, "month": "aug", "date": 27, "utc": true}, "type": "temporal", "axis": null}, "y": {"datum": 163400, "type": "quantitative"}}
    },
    {
      "mark": {"type": "text", "text": "∨ 28", "fontSize": 5.5, "font": "DejaVu Sans", "color": "#434651"},
      "encoding": {"x": {"datum": {"year": 2020, "month": "aug", "date": 27, "utc": true}, "type": "temporal", "axis": null}, "y": {"datum": 163400, "type": "quantitative"}}
    },
    {
      "mark": {"type": "point", "filled": true, "size": 4, "opacity": 1, "color": "#000000", "shape": "M0,0H6V6.5H3.2V2.8H0ZM6.8,0.3H9.4V2.9H6.8ZM11.5,0H15L11.5,6.5H8.2Z"},
      "encoding": {"x": {"datum": {"year": 2020, "month": "aug", "date": 13, "utc": true}, "type": "temporal", "axis": null}, "y": {"datum": 9980, "type": "quantitative"}}
    },
    {
      "mark": {"type": "point", "filled": true, "size": 4, "opacity": 1, "color": "#26a69a", "shape": "M1,-6H30V6.5H1Z"},
      "encoding": {"x": {"datum": {"year": 2027, "month": "mar", "date": 8, "utc": true}, "type": "temporal", "axis": null}, "y": {"datum": 78356.12, "type": "quantitative"}}
    },
    {
      "mark": {"type": "text", "text": ["78,356.12", "43:14"], "align": "left", "dx": 4, "dy": -3, "fontSize": 5.4, "lineHeight": 6, "color": "#ffffff"},
      "encoding": {"x": {"datum": {"year": 2027, "month": "mar", "date": 8, "utc": true}, "type": "temporal", "axis": null}, "y": {"datum": 78356.12, "type": "quantitative"}}
    },
    {
      "mark": {"type": "text", "text": "USD", "align": "left", "dx": 4, "fontSize": 5.5, "color": "#434651"},
      "encoding": {"x": {"datum": {"year": 2027, "month": "mar", "date": 8, "utc": true}, "type": "temporal", "axis": null}, "y": {"datum": 184400, "type": "quantitative"}}
    },
    {
      "mark": {"type": "text", "text": "A", "align": "left", "dx": 18, "fontSize": 5.8, "fontWeight": "bold", "color": "#787b86"},
      "encoding": {"x": {"datum": {"year": 2027, "month": "mar", "date": 8, "utc": true}, "type": "temporal", "axis": null}, "y": {"datum": 9165, "type": "quantitative"}}
    }
  ]
}
